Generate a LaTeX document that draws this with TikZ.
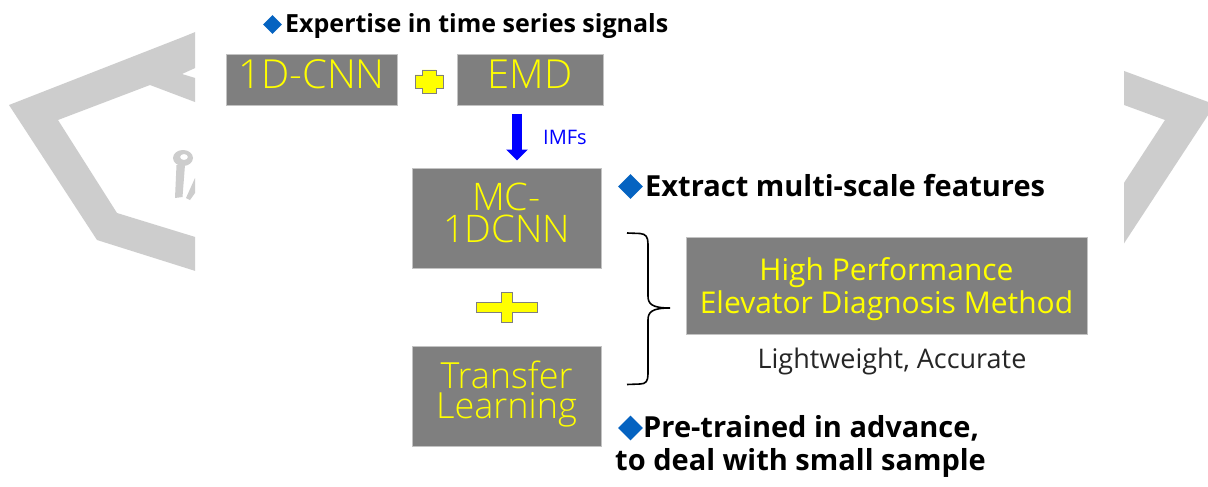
\documentclass[tikz,border=0pt]{standalone}
\usepackage{fontspec}
\setmainfont{Open Sans}
\newfontfamily\lightfont{Open Sans Light}
\usetikzlibrary{arrows.meta,shapes.geometric}

\definecolor{boxgray}{RGB}{127,127,127}
\definecolor{boxedge}{RGB}{195,195,195}
\definecolor{hiyellow}{RGB}{255,255,0}
\definecolor{bulletblue}{RGB}{5,99,193}
\definecolor{shadegray}{RGB}{205,205,205}
\definecolor{imfblue}{RGB}{0,0,255}
\definecolor{notegray}{RGB}{38,38,38}

% plus sign: centre, half width, half height, half thickness of the upright and of the bar
\newcommand\plusmark[6]{%
  \filldraw[fill=hiyellow, draw=boxgray, line width=0.9pt]
    (#1-#3,#2-#6) -- (#1-#5,#2-#6) -- (#1-#5,#2-#4) -- (#1+#5,#2-#4) --
    (#1+#5,#2-#6) -- (#1+#3,#2-#6) -- (#1+#3,#2+#6) -- (#1+#5,#2+#6) --
    (#1+#5,#2+#4) -- (#1-#5,#2+#4) -- (#1-#5,#2+#6) -- (#1-#3,#2+#6) -- cycle;}

\begin{document}
\begin{tikzpicture}[x=1pt,y=-1pt,
  box/.style={draw=boxedge, line width=1pt, fill=boxgray, text=hiyellow,
    align=center, inner sep=0pt},
  bullet/.style={diamond, fill=bulletblue, inner sep=0pt,
    minimum width=#1, minimum height=#1},
  headline/.style={anchor=base west, inner sep=0pt, text=black,
    font=\bfseries\fontsize{#1}{#1}\selectfont},
]
\fill[white] (0,0) rectangle (1208,487);
\useasboundingbox (0,0) rectangle (1208,487);

% faint emblem at the left edge
\begin{scope}
  \clip (0,0) rectangle (195,487);
  \fill[shadegray] (9,105) -- (183,37) -- (205,28) -- (205,63.5) -- (182,74)
    -- (205,81) -- (205,105.8) -- (150,85) -- (58,120) -- (117,213)
    -- (205,240) -- (205,274) -- (97,240) -- cycle;
  \fill[shadegray, even odd rule]
    (183,158) ellipse [x radius=10pt, y radius=8pt]
    (184,157) ellipse [x radius=4pt, y radius=3pt];
  \fill[shadegray] (176.5,165) -- (185,165) -- (182.5,197) -- (175,198) -- cycle;
  \fill[shadegray] (186,198) -- (195,178) -- (195,193) -- (190,200) -- cycle;
\end{scope}

% faint emblem at the right edge
\begin{scope}
  \clip (1124,0) rectangle (1208,487);
  \fill[shadegray] (1120,69.5) -- (1215,104.5) -- (1120,249.5) -- (1120,189)
    -- (1165,120) -- (1120,103.5) -- cycle;
\end{scope}

% headline above the first row
\node[bullet=19pt] (b1) at (272.5,24.5) {};
\node[headline=25] (t1) at (285,33) {Expertise in time series signals};

% first row
\node[box, minimum width=171pt, minimum height=50pt, text depth=11.6pt,
  font=\lightfont\fontsize{40}{42}\selectfont] (cnn) at (311.5,80) {1D-CNN};
\node[box, minimum width=146pt, minimum height=50pt, text depth=11.6pt,
  font=\lightfont\fontsize{40}{42}\selectfont] (emd) at (530,80) {EMD};
\plusmark{429}{81.5}{14}{11.5}{7}{6.5}

% multi-channel network and transfer learning
\node[box, minimum width=189pt, minimum height=100pt, text depth=11pt,
  font=\lightfont\fontsize{38}{32}\selectfont] (mc) at (506.5,218) {MC-\\1DCNN};
\node[box, minimum width=189pt, minimum height=100pt, text depth=13.4pt,
  font=\lightfont\fontsize{36}{30}\selectfont] (tl) at (506.5,396) {Transfer\\Learning};
\plusmark{506.5}{307}{30.5}{15}{5.5}{5}

\draw[imfblue, line width=10pt, shorten <=8pt, shorten >=7pt,
  -{Triangle[width=21pt,length=11pt]}]
  ([xshift=-13pt]emd.south) -- ([xshift=10.5pt]mc.north);
\node[anchor=base west, inner sep=0pt, text=imfblue,
  font=\fontsize{20}{20}\selectfont] (imf) at (543,144) {IMFs};

% side notes
\node[bullet=25pt] (b2) at (630.5,186.5) {};
\node[headline=29] (t2) at (645,196) {Extract multi-scale features};
\node[bullet=25pt] (b3) at (630.5,428) {};
\node[headline=29] (t3) at (643,437) {Pre-trained in advance,};
\node[headline=29] (t4) at (615,470) {to deal with small sample};

% result
\node[box, minimum width=401pt, minimum height=97pt, text depth=0pt,
  font=\fontsize{30}{33}\selectfont] (hp) at (886.5,285.5)
  {High Performance\\Elevator Diagnosis Method};
\node[anchor=base, inner sep=0pt, text=notegray,
  font=\fontsize{27}{27}\selectfont] (lw) at (892,368) {Lightweight, Accurate};

% brace gathering the two parts
\draw[black, line width=1.6pt] (627,233) -- (640,233.5)
  .. controls (646,234) and (648,237) .. (648,244) -- (648,296)
  .. controls (648,304) and (652,308) .. (670,308)
  .. controls (652,308) and (648,312) .. (648,320) -- (648,374)
  .. controls (648,381) and (646,384) .. (640,384) -- (627,384.5);
\end{tikzpicture}
\end{document}
